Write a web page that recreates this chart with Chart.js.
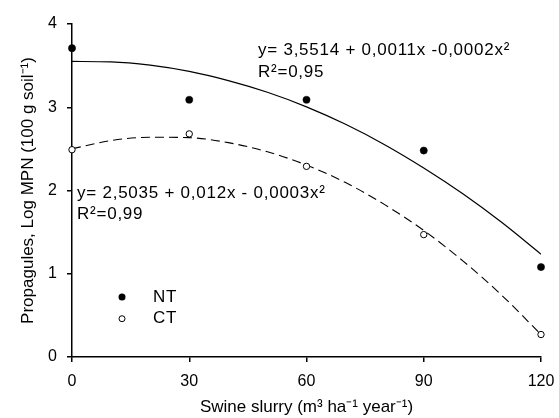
<!DOCTYPE html>
<html>
<head>
<meta charset="utf-8">
<script src="https://cdn.jsdelivr.net/npm/chart.js@4.4.1/dist/chart.umd.min.js"></script>
<style>
  html, body { margin: 0; padding: 0; background: #fff; }
  #wrap { width: 559px; height: 418px; position: relative; }
</style>
</head>
<body>
<div id="wrap"><canvas id="chart" width="559" height="418"></canvas></div>
<script>
(function () {
  'use strict';

  // swine slurry doses (m3 ha-1 year-1)
  var doses = [0, 30, 60, 90, 120];
  var ntObserved = [3.71, 3.09, 3.09, 2.48, 1.08];
  var ctObserved = [2.49, 2.68, 2.29, 1.47, 0.27];

  // fitted curves, every 10 units
  var curveX = [0, 10, 20, 30, 40, 50, 60, 70, 80, 90, 100, 110, 120];
  var ntCurve = [3.55, 3.545, 3.505, 3.43, 3.32, 3.18, 3.005, 2.795, 2.55, 2.27, 1.96, 1.615, 1.235];
  var ctCurve = [2.50, 2.60, 2.64, 2.635, 2.575, 2.465, 2.305, 2.095, 1.83, 1.52, 1.155, 0.74, 0.27];

  var xTicks = [0, 30, 60, 90, 120];
  var yTicks = [0, 1, 2, 3, 4];

  var ntEquation = ['y= 3,5514 + 0,0011x -0,0002x²', 'R²=0,95'];
  var ctEquation = ['y= 2,5035 + 0,012x - 0,0003x²', 'R²=0,99'];

  var FONT = '"Liberation Sans", Arial, sans-serif';

  function pairs(xs, ys) {
    return xs.map(function (x, i) { return { x: x, y: ys[i] }; });
  }

  // equations and legend drawn on top of the plot
  var notes = {
    id: 'notes',
    afterDraw: function (chart) {
      var ctx = chart.ctx;
      var xs = chart.scales.x, ys = chart.scales.y;
      ctx.save();
      ctx.fillStyle = '#000';
      ctx.font = '17px ' + FONT;
      ctx.textBaseline = 'middle';
      ctx.textAlign = 'left';
      ctx.letterSpacing = '0.75px';

      var x1 = xs.getPixelForValue(47.6), y1 = ys.getPixelForValue(3.685);
      ctx.fillText(ntEquation[0], x1, y1);
      ctx.fillText(ntEquation[1], x1, y1 + 22);

      var x2 = xs.getPixelForValue(1.3), y2 = ys.getPixelForValue(1.97);
      ctx.fillText(ctEquation[0], x2, y2);
      ctx.fillText(ctEquation[1], x2, y2 + 21);

      // legend
      var lx = xs.getPixelForValue(12.8);
      var ly1 = ys.getPixelForValue(0.72), ly2 = ys.getPixelForValue(0.46);
      ctx.beginPath();
      ctx.arc(lx, ly1, 3.5, 0, Math.PI * 2);
      ctx.fill();
      ctx.beginPath();
      ctx.arc(lx, ly2, 3, 0, Math.PI * 2);
      ctx.fillStyle = '#fff';
      ctx.fill();
      ctx.lineWidth = 1;
      ctx.strokeStyle = '#000';
      ctx.stroke();
      ctx.fillStyle = '#000';
      ctx.fillText('NT', lx + 31, ly1);
      ctx.fillText('CT', lx + 31, ly2);
      ctx.restore();
    }
  };

  new Chart(document.getElementById('chart').getContext('2d'), {
    type: 'scatter',
    data: {
      datasets: [
        {
          label: 'NT',
          data: pairs(doses, ntObserved),
          pointRadius: 3.6,
          pointBackgroundColor: '#000',
          pointBorderColor: '#000',
          pointBorderWidth: 0.5,
          showLine: false,
          clip: false
        },
        {
          label: 'CT',
          data: pairs(doses, ctObserved),
          pointRadius: 3.2,
          pointBackgroundColor: '#fff',
          pointBorderColor: '#000',
          pointBorderWidth: 1,
          showLine: false,
          clip: false
        },
        {
          label: 'NT fit',
          data: pairs(curveX, ntCurve),
          showLine: true,
          pointRadius: 0,
          borderColor: '#000',
          borderWidth: 1.2,
          cubicInterpolationMode: 'monotone'
        },
        {
          label: 'CT fit',
          data: pairs(curveX, ctCurve),
          showLine: true,
          pointRadius: 0,
          borderColor: '#000',
          borderWidth: 1.1,
          borderDash: [9, 5],
          cubicInterpolationMode: 'monotone'
        }
      ]
    },
    options: {
      responsive: false,
      animation: false,
      events: [],
      layout: { padding: { top: 24, right: 18, bottom: 0, left: 0 } },
      plugins: { legend: { display: false }, tooltip: { enabled: false } },
      scales: {
        x: {
          type: 'linear',
          min: 0,
          max: 120,
          afterBuildTicks: function (s) { s.ticks = xTicks.map(function (v) { return { value: v }; }); },
          afterFit: function (s) { s.height = 61; s.paddingLeft = 0; s.paddingRight = 0; },
          border: { color: '#000', width: 1.5 },
          grid: { display: true, drawOnChartArea: false, tickLength: 5, color: '#000', lineWidth: 1.5 },
          ticks: { color: '#000', font: { family: FONT, size: 16 }, padding: 10, maxRotation: 0 },
          title: {
            display: true,
            text: 'Swine slurry (m³ ha⁻¹ year⁻¹)',
            color: '#000',
            font: { family: FONT, size: 17 },
            padding: { top: 0, bottom: 0 }
          }
        },
        y: {
          type: 'linear',
          min: 0,
          max: 4,
          afterBuildTicks: function (s) { s.ticks = yTicks.map(function (v) { return { value: v }; }); },
          afterFit: function (s) { s.width = 72; s.paddingTop = 0; s.paddingBottom = 0; },
          border: { color: '#000', width: 1.5 },
          grid: { display: true, drawOnChartArea: false, tickLength: 5, color: '#000', lineWidth: 1.5 },
          ticks: { color: '#000', font: { family: FONT, size: 16 }, padding: 10 },
          title: {
            display: true,
            text: 'Propagules, Log MPN (100 g soil⁻¹)',
            color: '#000',
            font: { family: FONT, size: 17 },
            padding: { top: 18, bottom: 0 }
          }
        }
      }
    },
    plugins: [notes]
  });
})();
</script>
</body>
</html>
